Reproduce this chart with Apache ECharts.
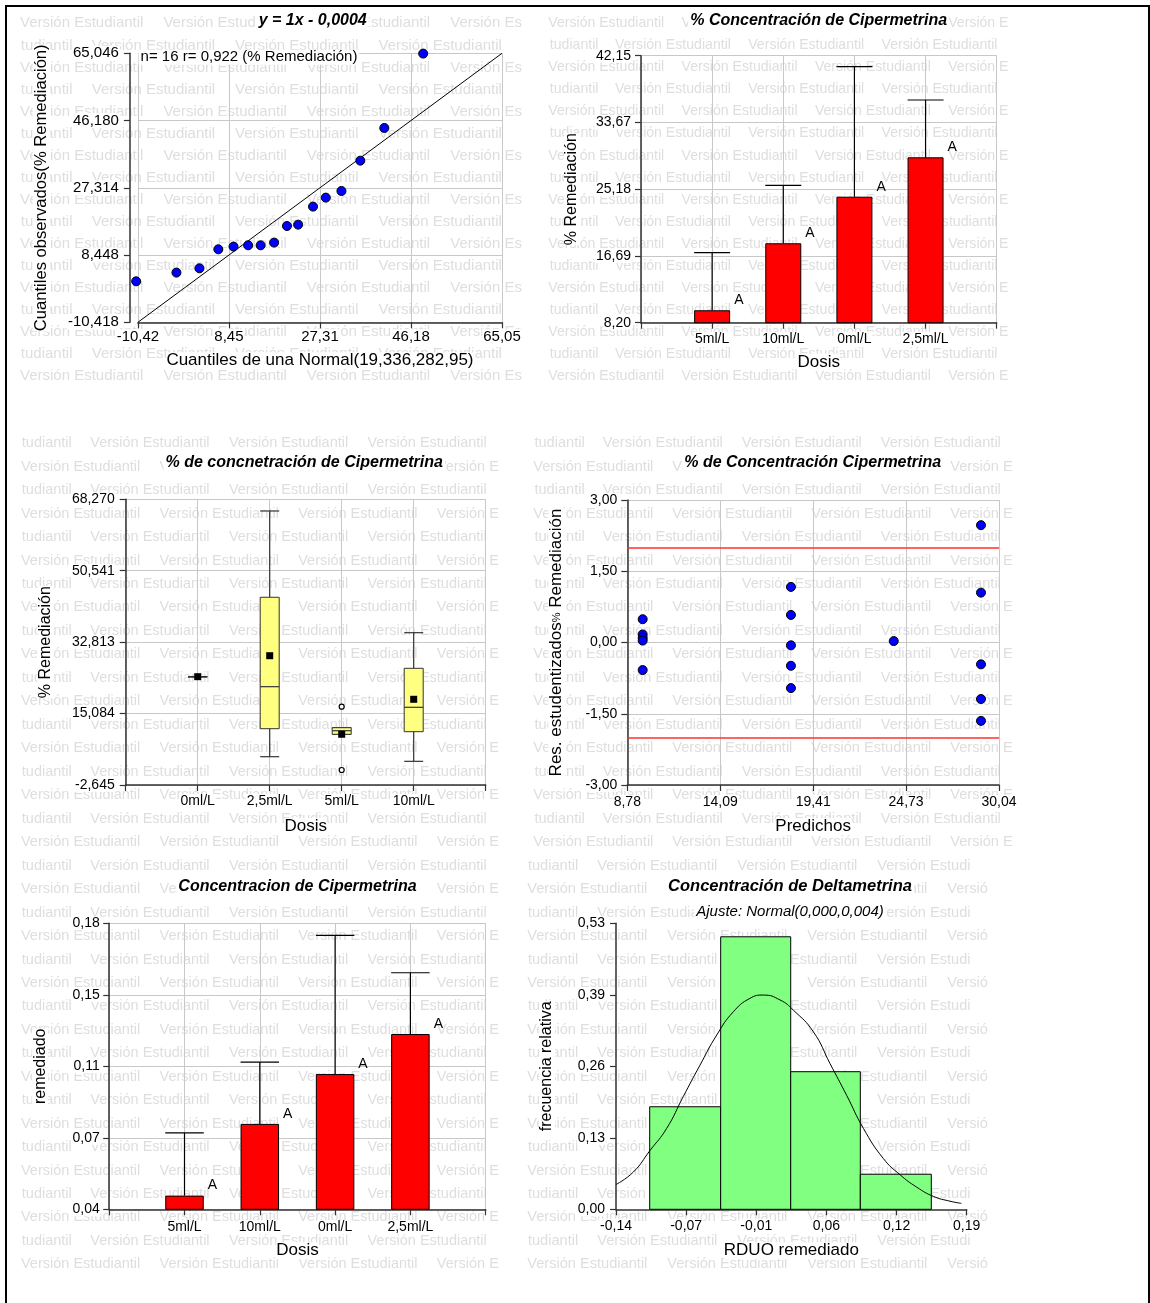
<!DOCTYPE html>
<html>
<head>
<meta charset="utf-8">
<script src="https://cdn.jsdelivr.net/npm/echarts@6/dist/echarts.min.js"></script>
<style>
html,body{margin:0;padding:0;background:#fff;}
#c{width:1150px;height:1303px;}
</style>
</head>
<body>
<div id="c"></div>
<script>
// ================= DATA =================
// Panel 1 - QQ plot
const qqTheoretical = [-10.78, -2.43, 2.34, 6.25, 9.40, 12.43, 15.02, 17.81, 20.48, 22.79, 25.88, 28.53, 31.77, 35.68, 40.66, 48.71];
const qqObserved    = [1.08, 3.52, 4.73, 10.06, 10.82, 11.18, 11.18, 11.94, 16.60, 16.98, 22.04, 24.56, 26.42, 34.93, 44.10, 64.96];
const qqLineX = [-10.42, 65.05];
const qqLineY = [-10.4204, 65.0496];
const qqXTicks = ['-10,42', '8,45', '27,31', '46,18', '65,05'];
const qqYTicks = ['-10,418', '8,448', '27,314', '46,180', '65,046'];
const qqTitle = 'y = 1x - 0,0004';
const qqStat = 'n= 16 r= 0,922 (% Remediación)';

// Panel 2 - bar chart % Remediación
const dosisBar = ['5ml/L', '10ml/L', '0ml/L', '2,5ml/L'];
const remMean   = [9.78, 18.30, 24.22, 29.23];
const remErrTop = [17.10, 25.67, 40.75, 36.52];
const remLetters = ['A', 'A', 'A', 'A'];
const remYTicks = ['8,20', '16,69', '25,18', '33,67', '42,15'];

// Panel 3 - box plot
const dosisBox = ['0ml/L', '2,5ml/L', '5ml/L', '10ml/L'];
const boxMin  = [24.24, 4.38, 9.94, 3.23];
const boxQ1   = [24.24, 11.33, 9.94, 10.59];
const boxMed  = [24.24, 21.76, 10.83, 16.64];
const boxQ3   = [24.24, 43.95, 11.58, 26.32];
const boxMax  = [24.24, 65.37, 11.58, 35.16];
const boxMean = [24.24, 29.45, 9.95, 18.63];
const boxOutCat = [3, 3];
const boxOutVal = [16.79, 1.08];
const boxYTicks = ['-2,645', '15,084', '32,813', '50,541', '68,270'];

// Panel 4 - studentized residuals
const predX = [9.66, 18.14, 24.02, 29.01];
const resGroups = [
  [0.49, 0.17, 0.10, 0.04, -0.58],
  [1.17, 0.58, -0.06, -0.49, -0.96],
  [0.03],
  [2.47, 1.05, -0.46, -1.19, -1.65]
];
const resLimits = [2, -2];
const predXTicks = ['8,78', '14,09', '19,41', '24,73', '30,04'];
const resYTicks = ['-3,00', '-1,50', '0,00', '1,50', '3,00'];

// Panel 5 - bar chart remediado
const remedMean   = [0.0467, 0.0818, 0.1062, 0.1258];
const remedErrTop = [0.0774, 0.1120, 0.1741, 0.1558];
const remedLetters = ['A', 'A', 'A', 'A'];
const remedYTicks = ['0,04', '0,07', '0,11', '0,15', '0,18'];

// Panel 6 - histogram
const binEdges = [-0.1083, -0.0415, 0.0244, 0.0899, 0.1567];
const binFreq  = [0.19, 0.505, 0.255, 0.065];
const curveX = [-0.14, -0.1237, -0.108, -0.0923, -0.0767, -0.061, -0.0452, -0.0296, -0.0139, -0.0014, 0.0143, 0.0269, 0.0457, 0.0614, 0.0771, 0.0928, 0.1116, 0.1273, 0.143, 0.1586, 0.1743, 0.185];
const curveY = [0.046, 0.069, 0.109, 0.150, 0.209, 0.267, 0.323, 0.366, 0.391, 0.397, 0.388, 0.369, 0.329, 0.270, 0.211, 0.150, 0.094, 0.064, 0.041, 0.024, 0.015, 0.011];
const histXTicks = ['-0,14', '-0,07', '-0,01', '0,06', '0,12', '0,19'];
const histYTicks = ['0,00', '0,13', '0,26', '0,39', '0,53'];

// ================= STYLE / HELPERS =================
const FONT = "'Liberation Sans', Arial, Helvetica, sans-serif";
const AXC = '#333333';
const GRIDC = '#c8c8c8';
const WM_COLOR = '#dedede';

function tickFmt(labels, min, interval) {
  return function (v) {
    const i = Math.round((v - min) / interval);
    return labels[i] !== undefined ? labels[i] : '';
  };
}
function catFmt(cats) {
  return function (v) { return cats[Math.round(v) - 1] || ''; };
}
function axis(o) {
  return {
    type: 'value', gridIndex: o.g, min: o.min, max: o.max, interval: o.interval,
    position: o.pos, offset: o.offset || 0,
    name: o.name, nameLocation: 'middle', nameGap: o.nameGap, nameMoveOverlap: false,
    nameTextStyle: { fontFamily: FONT, fontSize: o.nameSize || 16, color: '#000', backgroundColor: '#fff', rich: o.rich },
    axisLine: { show: true, onZero: false, lineStyle: { color: AXC, width: 1.5 } },
    axisTick: { show: true, inside: false, length: 6, lineStyle: { color: AXC, width: 1.2 } },
    axisLabel: { show: true, margin: o.margin, formatter: o.fmt, fontFamily: FONT, fontSize: o.labelSize || 14,
      color: '#000', backgroundColor: '#fff', padding: [0, 1], showMinLabel: true, showMaxLabel: true, hideOverlap: false },
    splitLine: { show: o.split !== false, lineStyle: { color: GRIDC, width: 1 } },
    splitArea: { show: false },
    minorTick: { show: false }
  };
}
function errBarRender(bw, letters) {
  return function (params, api) {
    const x = api.value(0), m = api.value(1), t = api.value(2);
    const pm = api.coord([x, m]), pt = api.coord([x, t]);
    const st = { stroke: '#000', lineWidth: 1.2 };
    return { type: 'group', children: [
      { type: 'line', shape: { x1: pm[0], y1: pm[1], x2: pt[0], y2: pt[1] }, style: st },
      { type: 'line', shape: { x1: pt[0] - bw / 2, y1: pt[1], x2: pt[0] + bw / 2, y2: pt[1] }, style: st },
      { type: 'text', x: pm[0] + bw / 2 + 4, y: pm[1] - 3,
        style: { text: letters[params.dataIndex], fontFamily: FONT, fontSize: 14, fill: '#000',
          align: 'left', verticalAlign: 'bottom', textAlign: 'left', textVerticalAlign: 'bottom' } }
    ] };
  };
}

// ================= WATERMARK =================
const WM_TEXT = 'Versión Estudiantil';
const WM_TAIL = 'tudiantil';
const WM_HEAD_EM = 4.835;
const wmRegions = [
  { x0: 20,    x1: 530,  y0: 23.3,  dy: 22.06, rows: 17, odd0: false, fs: 15.0, period: 143.4 },
  { x0: 548.3, x1: 1023, y0: 23.3,  dy: 22.06, rows: 17, odd0: false, fs: 14.1, period: 133.3 },
  { x0: 21,    x1: 515,  y0: 443.3, dy: 23.45, rows: 18, odd0: true,  fs: 14.5, period: 138.6 },
  { x0: 533.3, x1: 1027, y0: 443.3, dy: 23.45, rows: 18, odd0: true,  fs: 14.6, period: 139.0 },
  { x0: 21,    x1: 515,  y0: 865.7, dy: 23.45, rows: 18, odd0: true,  fs: 14.5, period: 138.6 },
  { x0: 527.3, x1: 995,  y0: 865.7, dy: 23.45, rows: 18, odd0: true,  fs: 14.6, period: 140.0 }
];
function wmText(x, y, text, fs, x1) {
  return { type: 'text', z: -10, silent: true, x: x, y: y,
    style: { text: text, fontFamily: FONT, fontSize: fs, fill: WM_COLOR,
      align: 'left', verticalAlign: 'middle', textAlign: 'left', textVerticalAlign: 'middle',
      width: x1 - x, overflow: 'truncate', ellipsis: '' } };
}
const wmElements = [];
wmRegions.forEach(function (r) {
  for (let i = 0; i < r.rows; i++) {
    const y = r.y0 + i * r.dy;
    const odd = (i % 2 === 1) !== r.odd0;
    let s = odd ? r.x0 - r.period / 2 : r.x0;
    for (; s < r.x1 - 3; s += r.period) {
      if (s < r.x0 - 0.5) {
        const tx = s + WM_HEAD_EM * r.fs;
        if (tx >= r.x0 - 5) wmElements.push(wmText(tx, y, WM_TAIL, r.fs, r.x1));
      } else {
        wmElements.push(wmText(s, y, WM_TEXT, r.fs, r.x1));
      }
    }
  }
});

// ================= TITLES & TEXT =================
function titleText(x, y, text, opts) {
  opts = opts || {};
  return { type: 'text', z: 20, silent: true, x: x, y: y,
    style: { text: text, fontFamily: FONT, fontSize: opts.size || 16, fontWeight: opts.weight || 'bold',
      fontStyle: opts.style || 'italic', fill: '#000', backgroundColor: '#fff', padding: [0, 2],
      align: opts.align || 'center', verticalAlign: 'middle',
      textAlign: opts.align || 'center', textVerticalAlign: 'middle' } };
}
const textElements = [
  titleText(312.7, 20.7, qqTitle),
  titleText(818.7, 21, '% Concentración de Cipermetrina'),
  titleText(304.2, 462.7, '% de concnetración de Cipermetrina'),
  titleText(812.7, 462.7, '% de Concentración Cipermetrina'),
  titleText(297.5, 886.7, 'Concentracion de Cipermetrina'),
  titleText(790, 886.7, 'Concentración de Deltametrina', { size: 16.5 }),
  titleText(790, 911.7, 'Ajuste: Normal(0,000,0,004)', { size: 15, weight: 'normal' }),
  titleText(138.6, 57.3, qqStat, { size: 15, weight: 'normal', style: 'normal', align: 'left' }),
  { type: 'rect', z: 30, silent: true, shape: { x: 6, y: 6, width: 1143, height: 1400 },
    style: { fill: 'none', stroke: '#000', lineWidth: 2 } }
];

// ================= CHART =================
const chart = echarts.init(document.getElementById('c'), null, { renderer: 'canvas' });

const grids = [
  { left: 137.9, top: 53.3,  width: 364.1, height: 269 },
  { left: 641,   top: 55.7,  width: 355.7, height: 267 },
  { left: 125.7, top: 499.3, width: 360,   height: 285.7 },
  { left: 627.3, top: 500,   width: 371.7, height: 285 },
  { left: 109.2, top: 923.3, width: 376.5, height: 286 },
  { left: 616,   top: 923.3, width: 350.7, height: 286 }
].map(function (g) { return Object.assign({ containLabel: false, outerBoundsMode: 'none', show: false }, g); });

const xAxes = [
  axis({ g: 0, pos: 'bottom', min: -10.42, max: 65.05, interval: 18.8675, fmt: tickFmt(qqXTicks, -10.42, 18.8675),
    margin: 7, labelSize: 15, name: 'Cuantiles de una Normal(19,336,282,95)', nameGap: 30, nameSize: 17 }),
  axis({ g: 1, pos: 'bottom', min: 0, max: 5, interval: 1, fmt: catFmt(dosisBar), margin: 9,
    name: 'Dosis', nameGap: 31, nameSize: 17 }),
  axis({ g: 2, pos: 'bottom', min: 0, max: 5, interval: 1, fmt: catFmt(dosisBox), margin: 9,
    name: 'Dosis', nameGap: 33, nameSize: 17 }),
  axis({ g: 3, pos: 'bottom', min: 8.78, max: 30.04, interval: 5.315, fmt: tickFmt(predXTicks, 8.78, 5.315), margin: 10,
    name: 'Predichos', nameGap: 33, nameSize: 17 }),
  axis({ g: 4, pos: 'bottom', min: 0, max: 5, interval: 1, fmt: catFmt(dosisBar), margin: 11,
    name: 'Dosis', nameGap: 33, nameSize: 17 }),
  axis({ g: 5, pos: 'bottom', min: -0.14, max: 0.19, interval: 0.066, fmt: tickFmt(histXTicks, -0.14, 0.066), margin: 9.5,
    name: 'RDUO remediado', nameGap: 33, nameSize: 17, split: false })
];
const yAxes = [
  axis({ g: 0, pos: 'left', offset: 8, min: -10.418, max: 65.046, interval: 18.866, fmt: tickFmt(qqYTicks, -10.418, 18.866),
    margin: 10, labelSize: 15, name: 'Cuantiles observados(% Remediación)', nameGap: 80, nameSize: 16.6 }),
  axis({ g: 1, pos: 'left', min: 8.20, max: 42.15, interval: 8.4875, fmt: tickFmt(remYTicks, 8.20, 8.4875),
    margin: 9, name: '% Remediación', nameGap: 61, nameSize: 16 }),
  axis({ g: 2, pos: 'left', min: -2.645, max: 68.27, interval: 17.72875, fmt: tickFmt(boxYTicks, -2.645, 17.72875),
    margin: 10, name: '% Remediación', nameGap: 72, nameSize: 16 }),
  axis({ g: 3, pos: 'left', min: -3, max: 3, interval: 1.5, fmt: tickFmt(resYTicks, -3, 1.5),
    margin: 9, name: '{a|Res. estudentizados}{b|%}{a| Remediación}', nameGap: 62, nameSize: 17,
    rich: { a: { fontFamily: FONT, fontSize: 17, color: '#000' }, b: { fontFamily: FONT, fontSize: 11, color: '#000' } } }),
  axis({ g: 4, pos: 'left', min: 0.04, max: 0.18, interval: 0.035, fmt: tickFmt(remedYTicks, 0.04, 0.035),
    margin: 8.5, name: 'remediado', nameGap: 61, nameSize: 16 }),
  axis({ g: 5, pos: 'left', min: 0, max: 0.53, interval: 0.1325, fmt: tickFmt(histYTicks, 0, 0.1325),
    margin: 10, name: 'frecuencia relativa', nameGap: 61, nameSize: 16, split: false })
];

const BW2 = 36, BW5 = 38.5, BOX_W = 19;

const series = [
  // Panel 1
  { type: 'line', xAxisIndex: 0, yAxisIndex: 0, data: qqLineX.map(function (x, i) { return [x, qqLineY[i]]; }),
    symbol: 'none', silent: true, lineStyle: { color: '#000', width: 1 }, z: 2 },
  { type: 'scatter', xAxisIndex: 0, yAxisIndex: 0, clip: false, symbolSize: 9,
    data: qqTheoretical.map(function (x, i) { return [x, qqObserved[i]]; }),
    itemStyle: { color: '#0000ff', borderColor: '#000', borderWidth: 1, opacity: 1 }, z: 3 },
  // Panel 2
  { type: 'bar', xAxisIndex: 1, yAxisIndex: 1, barWidth: BW2, data: remMean.map(function (v, i) { return [i + 1, v]; }),
    itemStyle: { color: '#ff0000', borderColor: '#000', borderWidth: 1 }, z: 2 },
  { type: 'custom', xAxisIndex: 1, yAxisIndex: 1, clip: false, z: 3,
    data: remMean.map(function (v, i) { return [i + 1, v, remErrTop[i]]; }), renderItem: errBarRender(BW2, remLetters) },
  // Panel 3
  { type: 'custom', xAxisIndex: 2, yAxisIndex: 2, clip: false, z: 2,
    data: boxMed.map(function (v, i) { return [i + 1, boxMin[i], boxQ1[i], v, boxQ3[i], boxMax[i]]; }),
    renderItem: function (params, api) {
      const x = api.value(0);
      const pMin = api.coord([x, api.value(1)]), pQ1 = api.coord([x, api.value(2)]),
            pMed = api.coord([x, api.value(3)]), pQ3 = api.coord([x, api.value(4)]), pMax = api.coord([x, api.value(5)]);
      const hw = BOX_W / 2, cx = pMed[0];
      const st = { stroke: '#333', lineWidth: 1.2 };
      return { type: 'group', children: [
        { type: 'line', shape: { x1: cx, y1: pQ3[1], x2: cx, y2: pMax[1] }, style: st },
        { type: 'line', shape: { x1: cx, y1: pQ1[1], x2: cx, y2: pMin[1] }, style: st },
        { type: 'line', shape: { x1: cx - hw, y1: pMax[1], x2: cx + hw, y2: pMax[1] }, style: st },
        { type: 'line', shape: { x1: cx - hw, y1: pMin[1], x2: cx + hw, y2: pMin[1] }, style: st },
        { type: 'rect', shape: { x: cx - hw, y: pQ3[1], width: 2 * hw, height: pQ1[1] - pQ3[1] },
          style: { fill: '#ffff80', stroke: '#333', lineWidth: 1 } },
        { type: 'line', shape: { x1: cx - hw, y1: pMed[1], x2: cx + hw, y2: pMed[1] }, style: st }
      ] };
    } },
  { type: 'scatter', xAxisIndex: 2, yAxisIndex: 2, symbol: 'rect', symbolSize: 7, z: 4,
    data: boxMean.map(function (v, i) { return [i + 1, v]; }), itemStyle: { color: '#000', opacity: 1 } },
  { type: 'scatter', xAxisIndex: 2, yAxisIndex: 2, symbol: 'circle', symbolSize: 5, z: 4,
    data: boxOutCat.map(function (c, i) { return [c, boxOutVal[i]]; }),
    itemStyle: { color: '#fff', borderColor: '#000', borderWidth: 1.2, opacity: 1 } },
  // Panel 4
  { type: 'scatter', xAxisIndex: 3, yAxisIndex: 3, symbolSize: 9, z: 4,
    data: [].concat.apply([], resGroups.map(function (g, gi) { return g.map(function (v) { return [predX[gi], v]; }); })),
    itemStyle: { color: '#0000ff', borderColor: '#000', borderWidth: 1, opacity: 1 },
    markLine: { silent: true, symbol: 'none', label: { show: false }, animation: false,
      lineStyle: { color: '#ff3030', width: 1.5, type: 'solid' },
      emphasis: { disabled: true },
      data: resLimits.map(function (v) { return { yAxis: v }; }) } },
  // Panel 5
  { type: 'bar', xAxisIndex: 4, yAxisIndex: 4, barWidth: BW5, data: remedMean.map(function (v, i) { return [i + 1, v]; }),
    itemStyle: { color: '#ff0000', borderColor: '#000', borderWidth: 1 }, z: 2 },
  { type: 'custom', xAxisIndex: 4, yAxisIndex: 4, clip: false, z: 3,
    data: remedMean.map(function (v, i) { return [i + 1, v, remedErrTop[i]]; }), renderItem: errBarRender(BW5, remedLetters) },
  // Panel 6
  { type: 'custom', xAxisIndex: 5, yAxisIndex: 5, clip: false, z: 2,
    data: binFreq.map(function (f, i) { return [binEdges[i], binEdges[i + 1], f]; }),
    renderItem: function (params, api) {
      const p0 = api.coord([api.value(0), 0]), p1 = api.coord([api.value(1), api.value(2)]);
      return { type: 'rect', shape: { x: p0[0], y: p1[1], width: p1[0] - p0[0], height: p0[1] - p1[1] },
        style: { fill: '#80ff80', stroke: '#000', lineWidth: 1 } };
    } },
  { type: 'line', xAxisIndex: 5, yAxisIndex: 5, smooth: true, symbol: 'none', silent: true, z: 3,
    data: curveX.map(function (x, i) { return [x, curveY[i]]; }), lineStyle: { color: '#000', width: 1 } }
];

chart.setOption({
  animation: false,
  backgroundColor: '#fff',
  textStyle: { fontFamily: FONT },
  grid: grids,
  xAxis: xAxes,
  yAxis: yAxes,
  series: series,
  graphic: { elements: wmElements.concat(textElements) }
});
</script>
</body>
</html>
